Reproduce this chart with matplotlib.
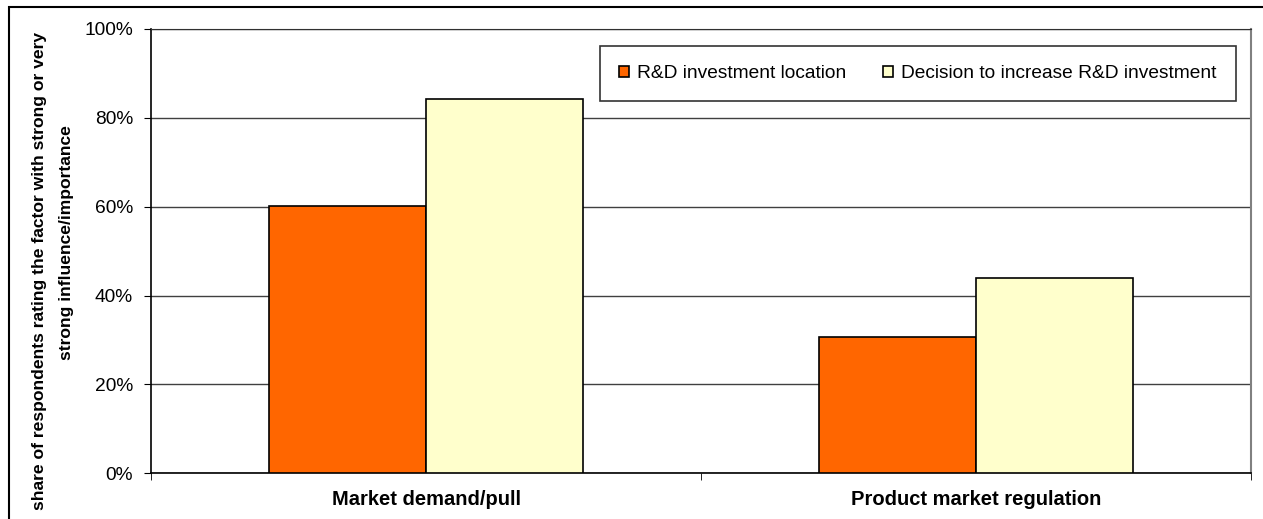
import matplotlib
matplotlib.use("Agg")
import matplotlib.pyplot as plt
from matplotlib.patches import Rectangle
from matplotlib.ticker import FuncFormatter
import numpy as np

plt.rcParams['font.family'] = ['Liberation Sans', 'DejaVu Sans']

categories = ["Market demand/pull", "Product market regulation"]
series_names = ["R&D investment location", "Decision to increase R&D investment"]
location_vals = [60.2, 30.7]
increase_vals = [84.2, 44.0]
colors = ["#FF6600", "#FFFFCC"]
yticks = [0, 20, 40, 60, 80, 100]
ylabel_lines = ["share of respondents rating the factor with strong or very",
                "strong influence/importance"]

W, H = 1263, 519
fig = plt.figure(figsize=(W / 100, H / 100), dpi=100)
ax = fig.add_axes([151 / W, 1 - 473.3 / H, 1100 / W, 444.3 / H])

x = np.arange(len(categories))
bw = 1 / 3.5
ax.bar(x - bw / 2, location_vals, width=bw, color=colors[0], edgecolor='black', linewidth=1.2,
       label=series_names[0], zorder=3)
ax.bar(x + bw / 2, increase_vals, width=bw, color=colors[1], edgecolor='black', linewidth=1.2,
       label=series_names[1], zorder=3)

ax.set_xlim(-0.5, len(categories) - 0.5)
ax.set_ylim(0, 100)
ax.set_yticks(yticks)
ax.yaxis.set_major_formatter(FuncFormatter(lambda v, p: f"{int(v)}%"))
ax.grid(axis='y', color='#404040', linewidth=1, zorder=0)
ax.set_axisbelow(True)

ax.set_xticks(x)
ax.set_xticklabels(categories, fontsize=14.5, fontweight='bold')
ax.tick_params(axis='x', which='major', length=0, pad=12)
ax.set_xticks([-0.5, 0.5, 1.5], minor=True)
ax.tick_params(axis='x', which='minor', length=5, direction='out', color='black')
ax.tick_params(axis='y', length=5, direction='out', labelsize=13.8, pad=8)

for s in ['left', 'bottom']:
    ax.spines[s].set_color('black')
    ax.spines[s].set_linewidth(1.2)
ax.spines['top'].set_color('#303030')
ax.spines['right'].set_color('#808080')
ax.spines['right'].set_linewidth(1.5)

# two-line y label, positioned as in the reference
fig.text(40 / W, 1 - 271 / H, ylabel_lines[0], rotation=90, ha='center', va='center',
         fontsize=12.6, fontweight='bold')
fig.text(67 / W, 1 - 243 / H, ylabel_lines[1], rotation=90, ha='center', va='center',
         fontsize=12.6, fontweight='bold')

leg = ax.legend(loc='upper right', bbox_to_anchor=((1235.5 - 151) / 1100, (473.3 - 46) / 444.3),
                ncol=2, frameon=True, fancybox=False, fontsize=13.8, handlelength=0.55,
                handleheight=0.55, handletextpad=0.4, columnspacing=1.9, borderpad=1.0,
                borderaxespad=0)
leg.get_frame().set_edgecolor('black')
leg.get_frame().set_linewidth(1.2)
leg.set_zorder(5)

fig.patches.append(Rectangle((9 / W, -0.1), 1.2, 1 - 7 / H + 0.1, transform=fig.transFigure,
                             fill=False, edgecolor='black', linewidth=1.5))

fig.savefig("out.png", dpi=100)
